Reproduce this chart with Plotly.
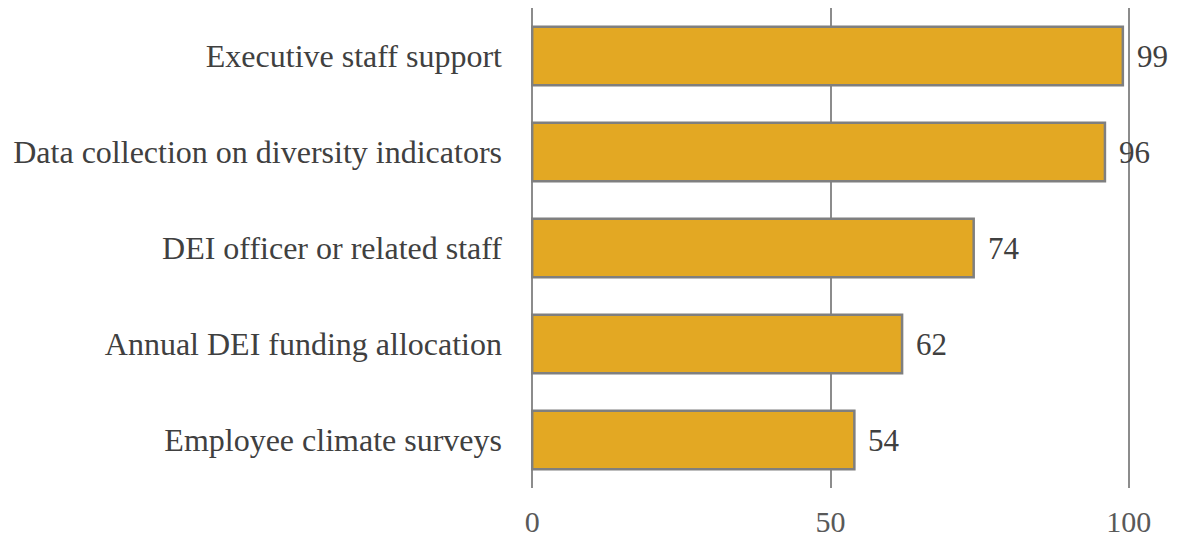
import plotly.graph_objects as go

categories = [
    "Executive staff support",
    "Data collection on diversity indicators",
    "DEI officer or related staff",
    "Annual DEI funding allocation",
    "Employee climate surveys",
]
values = [99, 96, 74, 62, 54]
tick_vals = [0, 50, 100]
tick_text = ["0", "50", "100"]

FONT = "Liberation Serif"
TEXT_COLOR = "#404040"

fig = go.Figure(
    go.Bar(
        x=values,
        y=categories,
        orientation="h",
        marker=dict(color="#E3A823", line=dict(color="#7F7F7F", width=2.5)),
        width=0.61,
        hoverinfo="skip",
    )
)

for cat, val in zip(categories, values):
    fig.add_annotation(
        x=val, y=cat, text=str(val), showarrow=False,
        xanchor="left", xshift=12,
        font=dict(family=FONT, size=31, color=TEXT_COLOR),
    )

fig.update_layout(
    width=1177, height=540,
    margin=dict(l=531, r=47, t=8, b=52),
    plot_bgcolor="white", paper_bgcolor="white",
    showlegend=False,
    font=dict(family=FONT, size=32, color=TEXT_COLOR),
)
fig.update_xaxes(
    range=[-0.2, 100.2], tickvals=tick_vals, ticktext=tick_text,
    showgrid=True, gridcolor="#8C8C8C", gridwidth=2,
    zeroline=False, showline=False, automargin=False,
    ticks="", ticklabelstandoff=13,
    tickfont=dict(family=FONT, size=30, color="#595959"),
)
fig.update_yaxes(
    autorange="reversed", showgrid=False, zeroline=False, showline=False,
    automargin=False,
    ticks="", ticklabelstandoff=28,
    tickfont=dict(family=FONT, size=32, color=TEXT_COLOR),
)

fig.write_html("out.html")
